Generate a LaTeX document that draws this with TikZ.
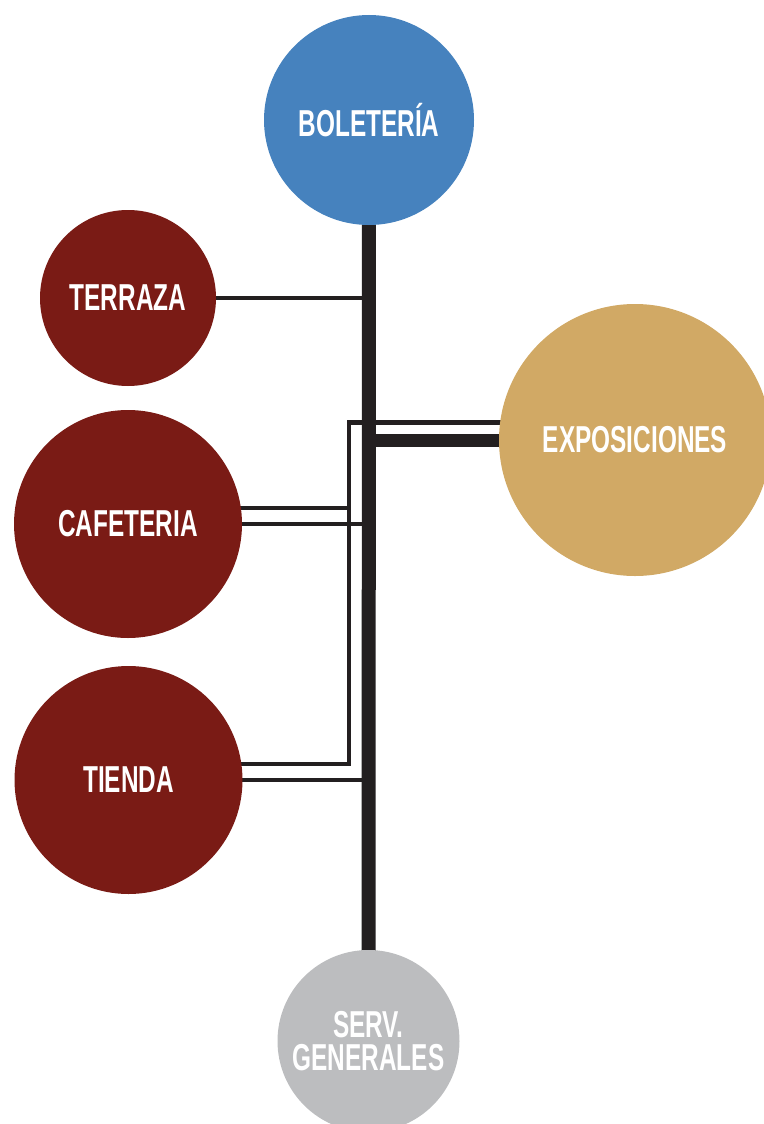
\documentclass[tikz,border=0pt]{standalone}
\usepackage{fontspec}
\newfontfamily\labfont{Liberation Sans}[FakeStretch=0.65]
\usetikzlibrary{calc,backgrounds}
\definecolor{cblue}{HTML}{4682BE}
\definecolor{cred}{HTML}{7A1B15}
\definecolor{cgold}{HTML}{D1A965}
\definecolor{cgray}{HTML}{BCBDBF}
\definecolor{cline}{HTML}{231F20}
\begin{document}
\begin{tikzpicture}[x=1pt,y=-1pt,
  hub/.style={circle, inner sep=0pt, text=white, align=center,
    font=\labfont\bfseries\fontsize{37.5}{33}\selectfont},
  thinline/.style={draw=cline, line width=4.5pt, line join=miter},
  trunkline/.style={draw=cline, line width=14pt},
  thickline/.style={draw=cline, line width=13pt}]
\useasboundingbox (0,0) rectangle (763,1124);
\node[hub, fill=cblue, minimum size=210pt] (bol) at (369,120) {BOLETERÍA};
\node[hub, fill=cred, minimum size=176pt] (terr) at (128,298) {TERRAZA};
\node[hub, fill=cred, minimum size=228pt] (cafe) at (128,524) {CAFETERIA};
\node[hub, fill=cred, minimum size=228pt] (tienda) at (128.5,780) {TIENDA};
\node[hub, fill=cgold, minimum size=272pt] (expo) at (635,440) {EXPOSICIONES};
\node[hub, fill=cgray, minimum size=182pt] (serv) at (368.5,1041) {SERV.\\GENERALES};
\coordinate (vtop) at (349,422.5);
\coordinate (vbot) at (349,764);
\coordinate (cu) at ($(cafe.center)+(0,-16)$);
\coordinate (eu) at ($(expo.center)+(0,-17.5)$);
\coordinate (tu) at ($(tienda.center)+(0,-16)$);
\begin{scope}[on background layer]
  \draw[trunkline] (bol.center) -- (serv.center);
  \draw[thinline] (terr.center) -- (terr.center -| bol.center);
  \draw[thickline] (expo.center -| bol.center) -- (expo.center);
  \draw[thinline] (eu) -- (vtop) -- (vbot) -- (tu);
  \draw[thinline] (cu) -- (cu -| vtop);
  \draw[thinline] (cafe.center) -- (cafe.center -| bol.center);
  \draw[thinline] (tienda.center) -- (tienda.center -| bol.center);
\end{scope}
\end{tikzpicture}
\end{document}
